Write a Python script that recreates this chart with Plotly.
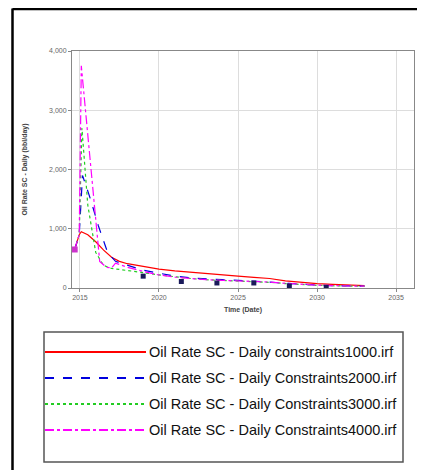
import plotly.graph_objects as go

# ---------------- data ----------------
dates_1000 = ["2014-09-01", "2014-12-15", "2015-02-01", "2015-07-01", "2016-01-01", "2016-07-01",
              "2017-01-01", "2017-07-01", "2018-01-01", "2019-01-01", "2020-01-01", "2021-01-01",
              "2022-01-01", "2023-01-01", "2024-01-01", "2025-01-01", "2026-01-01", "2027-01-01",
              "2028-01-01", "2029-01-01", "2030-01-01", "2031-01-01", "2032-01-01", "2033-01-01"]
rate_1000 = [650, 900, 950, 900, 780, 640, 520, 450, 410, 360, 320, 290,
             265, 240, 220, 200, 180, 160, 120, 95, 75, 60, 48, 40]

dates_2000 = ["2014-09-01", "2014-12-15", "2015-03-01", "2015-09-01", "2016-03-01", "2016-10-01",
              "2017-04-01", "2018-01-01", "2019-01-01", "2020-01-01", "2021-01-01", "2022-01-01",
              "2023-01-01", "2024-01-01", "2025-01-01", "2026-01-01", "2027-01-01", "2028-01-01",
              "2029-01-01", "2030-01-01", "2031-01-01", "2032-01-01", "2033-01-01"]
rate_2000 = [650, 900, 1900, 1500, 1050, 600, 450, 380, 300, 250, 200, 170,
             150, 140, 130, 120, 100, 80, 60, 50, 40, 35, 30]

dates_3000 = ["2014-09-01", "2014-12-15", "2015-02-15", "2015-07-01", "2016-01-01", "2016-07-01",
              "2017-01-01", "2018-01-01", "2019-01-01", "2020-01-01", "2021-01-01", "2022-01-01",
              "2023-01-01", "2024-01-01", "2025-01-01", "2026-01-01", "2027-01-01", "2028-01-01",
              "2029-01-01", "2030-01-01", "2031-01-01", "2032-01-01", "2033-01-01"]
rate_3000 = [650, 900, 2700, 1400, 600, 380, 330, 300, 260, 220, 185, 160,
             140, 130, 120, 110, 95, 75, 55, 45, 38, 32, 28]

dates_4000 = ["2014-09-01", "2014-12-15", "2015-02-01", "2015-07-01", "2016-01-01", "2016-04-01",
              "2016-09-01", "2017-01-01", "2017-04-01", "2018-01-01", "2019-01-01", "2020-01-01",
              "2021-01-01", "2022-01-01", "2023-01-01", "2024-01-01", "2025-01-01", "2026-01-01",
              "2027-01-01", "2028-01-01", "2029-01-01", "2030-01-01", "2031-01-01", "2032-01-01",
              "2033-01-01"]
rate_4000 = [650, 900, 3750, 2600, 1200, 450, 350, 340, 420, 350, 280, 220,
             185, 160, 140, 130, 120, 115, 100, 80, 60, 48, 40, 34, 30]

marker_dates = ["2019-01-01", "2021-06-01", "2023-09-01", "2026-01-01", "2028-04-01", "2030-08-01"]
marker_rates = [200, 110, 85, 85, 35, 10]

names = ["Oil Rate SC - Daily constraints1000.irf",
         "Oil Rate SC - Daily Constraints2000.irf",
         "Oil Rate SC - Daily Constraints3000.irf",
         "Oil Rate SC - Daily Constraints4000.irf"]
colors = ["#ff0000", "#0000dd", "#22cc22", "#ff00ff"]
dashes = ["solid", "dash", "dot", "dashdot"]

series = [(dates_1000, rate_1000), (dates_2000, rate_2000),
          (dates_3000, rate_3000), (dates_4000, rate_4000)]

fig = go.Figure()
for (d, r), n, c, ds in zip(series, names, colors, dashes):
    fig.add_trace(go.Scatter(x=d, y=r, mode="lines", name=n, showlegend=False,
                             line=dict(color=c, width=1.2, dash=ds)))

fig.add_trace(go.Scatter(x=marker_dates, y=marker_rates, mode="markers", showlegend=False,
                         marker=dict(symbol="square", size=5, color="#1a1a5a")))
fig.add_trace(go.Scatter(x=[dates_4000[0]], y=[rate_4000[0]], mode="markers", showlegend=False,
                         marker=dict(symbol="square", size=6, color="#cc33cc")))

# ---------------- custom legend ----------------
# plot area (reference pixels): x 72..414, y 51..288 -> paper width 342, height 237
def px(xp):
    return (xp - 72) / 342.0

def py(yp):
    return (288 - yp) / 237.0

shapes = []
annotations = []
shapes.append(dict(type="rect", xref="paper", yref="paper",
                   x0=px(44), x1=px(403), y0=py(462), y1=py(332),
                   line=dict(color="#555555", width=1.5), fillcolor="white", layer="above"))
item_y = [352, 378, 404, 430]
for n, c, ds, yy in zip(names, colors, dashes, item_y):
    shapes.append(dict(type="line", xref="paper", yref="paper",
                       x0=px(45), x1=px(146), y0=py(yy), y1=py(yy),
                       line=dict(color=c, width=2.2, dash=ds), layer="above"))
    annotations.append(dict(xref="paper", yref="paper", x=px(147), y=py(yy),
                            xanchor="left", yanchor="middle", showarrow=False,
                            text=n, font=dict(family="Liberation Sans Narrow, Arial Narrow, Liberation Sans, sans-serif",
                                              size=14.5, color="#111111")))

# outer frame (left and top edges visible)
shapes.append(dict(type="line", xref="paper", yref="paper",
                   x0=px(12.5), x1=px(12.5), y0=py(480), y1=py(8.5),
                   line=dict(color="black", width=2.5)))
shapes.append(dict(type="line", xref="paper", yref="paper",
                   x0=px(12.5), x1=px(440), y0=py(9), y1=py(9),
                   line=dict(color="black", width=2.5)))

fig.update_layout(
    width=417, height=462,
    margin=dict(l=64, r=11, t=43, b=182),
    paper_bgcolor="white", plot_bgcolor="white",
    font=dict(family="Liberation Sans, Arial, sans-serif", size=7, color="#555555"),
    shapes=shapes, annotations=annotations,
    xaxis=dict(type="date", range=["2014-07-01", "2036-02-20"],
               tick0="2015-01-01", dtick="M60", tickformat="%Y",
               showgrid=True, gridcolor="#dddddd", gridwidth=1,
               showline=True, linecolor="#888888", linewidth=1, mirror=True,
               ticks="outside", ticklen=3, tickcolor="#888888",
               tickfont=dict(size=7, color="#666666"),
               title=dict(text="<b>Time (Date)</b>", font=dict(size=7, color="#444444"), standoff=6),
               zeroline=False),
    yaxis=dict(range=[0, 4000], dtick=1000, tickformat=",",
               showgrid=True, gridcolor="#dddddd", gridwidth=1,
               showline=True, linecolor="#888888", linewidth=1, mirror=True,
               ticks="outside", ticklen=3, tickcolor="#888888",
               tickfont=dict(size=7, color="#666666"),
               title=dict(text="<b>Oil Rate SC - Daily (bbl/day)</b>", font=dict(size=7, color="#444444"), standoff=20),
               zeroline=False),
)

fig.write_html("out.html")
